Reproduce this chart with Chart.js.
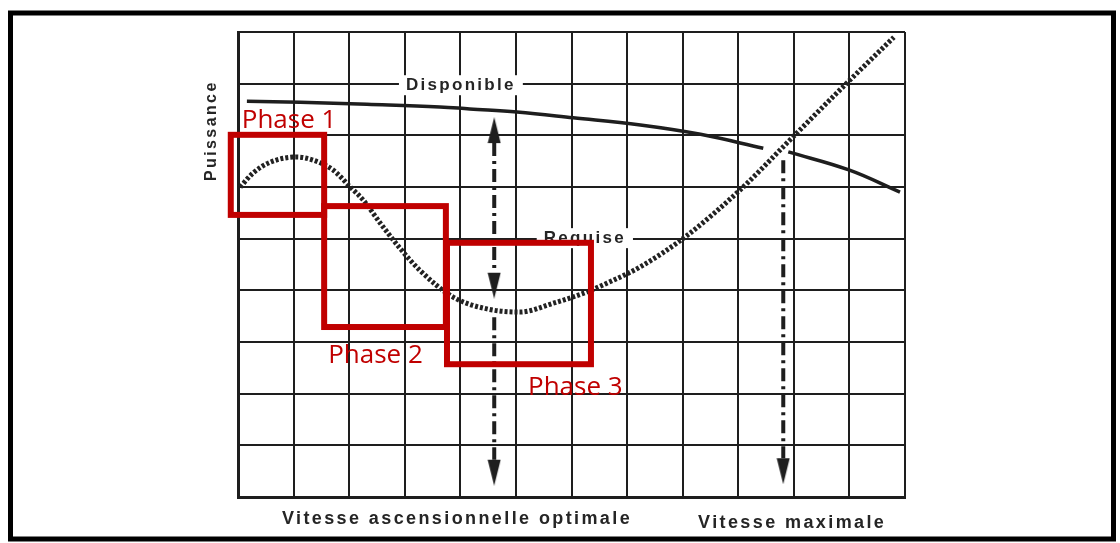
<!DOCTYPE html>
<html>
<head>
<meta charset="utf-8">
<script src="https://cdn.jsdelivr.net/npm/chart.js@4.4.1/dist/chart.umd.min.js"></script>
<style>
  html, body { margin: 0; padding: 0; background: #fff; }
  #wrap { position: relative; width: 1120px; height: 543px; }
</style>
</head>
<body>
<div id="wrap"><canvas id="powerChart"></canvas></div>
<script>
// grid units: 12 columns (speed) x 9 rows (power)
const dispoX = [0.16, 1.12, 2.32, 3.63, 4.17, 5.02, 6.03, 7.24, 8.32, 9.45, 9.68, 9.90, 10.99, 11.91];
const dispoY = [7.66, 7.64, 7.60, 7.55, 7.51, 7.45, 7.34, 7.20, 7.02, 6.75, null, 6.68, 6.33, 5.90];

const requiseX = [0.04, 0.27, 0.58, 1.06, 1.35, 1.71, 2.02, 2.25, 2.56, 2.91, 3.27, 3.87, 4.48, 5.07, 5.67, 6.28, 6.64, 7.23, 8.04, 9.03, 9.93, 10.83, 11.80];
const requiseY = [6.00, 6.27, 6.48, 6.58, 6.52, 6.33, 6.00, 5.75, 5.30, 4.82, 4.39, 3.87, 3.64, 3.58, 3.75, 3.97, 4.14, 4.45, 5.03, 5.94, 6.91, 7.88, 8.90];

// dash-dot arrows: x, top end, bottom end, heads
const arrowX = [4.61, 4.61, 9.81];
const arrowTop = [6.85, 3.48, 6.52];
const arrowBottom = [4.34, 0.72, 0.75];
const arrowHeadUp = [true, false, false];
const arrowHeadDown = [true, true, true];

// highlighted phases (x from-to, y from-to)
const phaseLabels = ['Phase 1', 'Phase 2', 'Phase 3'];
const phaseX0 = [-0.13, 1.55, 3.76];
const phaseX1 = [1.55, 3.74, 6.35];
const phaseY0 = [5.46, 3.29, 2.57];
const phaseY1 = [7.01, 5.63, 4.92];

const curveLabels = ['Disponible', 'Requise'];
const axisLabels = ['Puissance', 'Vitesse ascensionnelle optimale', 'Vitesse maximale'];

const INK = '#1e1e1e';
const TEXT = '#252525';
const RED = '#c00000';

function pts(xs, ys) {
    return xs.map((x, i) => ({ x: x, y: ys[i] }));
}

// arrowhead sprite, head in the upper half so its base sits on the point
function makeArrowHead() {
    const c = document.createElement('canvas');
    c.width = 14;
    c.height = 52;
    const g = c.getContext('2d');
    g.fillStyle = INK;
    g.beginPath();
    g.moveTo(7, 0);
    g.lineTo(0.5, 26);
    g.lineTo(13.5, 26);
    g.closePath();
    g.fill();
    return c;
}
const arrowHead = makeArrowHead();

const arrowSets = arrowX.map((x, i) => ({
    data: [{ x: x, y: arrowTop[i] }, { x: x, y: arrowBottom[i] }],
    borderColor: INK,
    borderWidth: 4,
    borderDash: [13, 5, 3, 5],
    borderCapStyle: 'butt',
    pointStyle: arrowHead,
    pointRadius: [arrowHeadUp[i] ? 6 : 0, arrowHeadDown[i] ? 6 : 0],
    rotation: [0, 180],
    tension: 0
}));

function textAt(ctx, text, x, y, font, spacing, color, bg) {
    ctx.save();
    ctx.font = font;
    ctx.letterSpacing = spacing;
    ctx.textAlign = 'center';
    ctx.textBaseline = 'middle';
    if (bg) {
        const w = ctx.measureText(text).width;
        ctx.fillStyle = '#fff';
        ctx.fillRect(x - w / 2 - 7, y - 10, w + 14, 20);
    }
    ctx.fillStyle = color;
    ctx.fillText(text, x, y);
    ctx.restore();
}

const overlay = {
    id: 'overlay',
    beforeDatasetsDraw(chart) {
        const { ctx, scales: { x, y } } = chart;
        const lbl = '700 17px "Liberation Sans", Arial, sans-serif';
        textAt(ctx, curveLabels[0], x.getPixelForValue(4.01), y.getPixelForValue(7.97), lbl, '2.3px', TEXT, true);
        textAt(ctx, curveLabels[1], x.getPixelForValue(6.24), y.getPixelForValue(5.01), lbl, '2.3px', TEXT, true);
    },
    afterDraw(chart) {
        const { ctx, chartArea, scales: { x, y } } = chart;
        const lbl = '700 18px "Liberation Sans", Arial, sans-serif';

        // outer frame
        ctx.save();
        ctx.strokeStyle = '#000';
        ctx.lineWidth = 5;
        ctx.strokeRect(10.5, 13, 1103, 526);
        ctx.restore();

        // axis captions
        textAt(ctx, axisLabels[1], x.getPixelForValue(3.94), chartArea.bottom + 22, lbl, '2.4px', TEXT);
        textAt(ctx, axisLabels[2], x.getPixelForValue(9.97), chartArea.bottom + 26, lbl, '2.4px', TEXT);
        ctx.save();
        ctx.translate(chartArea.left - 26, y.getPixelForValue(7.09));
        ctx.rotate(-Math.PI / 2);
        textAt(ctx, axisLabels[0], 0, 0, '700 16px "Liberation Sans", Arial, sans-serif', '2.4px', TEXT);
        ctx.restore();

        // phase boxes
        ctx.save();
        ctx.strokeStyle = RED;
        ctx.lineWidth = 6;
        ctx.fillStyle = RED;
        ctx.font = '500 26px "Open Sans", sans-serif';
        ctx.textBaseline = 'alphabetic';
        phaseLabels.forEach((name, i) => {
            const l = x.getPixelForValue(phaseX0[i]);
            const r = x.getPixelForValue(phaseX1[i]);
            const t = y.getPixelForValue(phaseY1[i]);
            const b = y.getPixelForValue(phaseY0[i]);
            ctx.strokeRect(l, t, r - l, b - t);
            if (i === 0) {
                ctx.fillText(name, l + 11, t - 7);
            } else {
                ctx.fillText(name, l + (i === 1 ? 4 : 81), b + (i === 1 ? 36 : 31));
            }
        });
        ctx.restore();
    }
};

new Chart(document.getElementById('powerChart'), {
    type: 'line',
    data: {
        datasets: [
            {
                label: curveLabels[0],
                data: pts(dispoX, dispoY),
                borderColor: INK,
                borderWidth: 3.5,
                pointRadius: 0,
                spanGaps: false,
                tension: 0.4
            },
            {
                label: curveLabels[1],
                data: pts(requiseX, requiseY),
                borderColor: '#222',
                borderWidth: 5,
                borderDash: [3, 2],
                borderCapStyle: 'butt',
                pointRadius: 0,
                cubicInterpolationMode: 'monotone'
            },
            ...arrowSets
        ]
    },
    options: {
        responsive: true,
        maintainAspectRatio: false,
        animation: false,
        events: [],
        layout: { padding: { left: 238, right: 215, top: 32, bottom: 46 } },
        plugins: {
            legend: { display: false },
            tooltip: { enabled: false }
        },
        scales: {
            x: {
                type: 'linear',
                min: 0,
                max: 12,
                ticks: { stepSize: 1, display: false },
                grid: { color: INK, lineWidth: 2, drawTicks: false },
                border: { color: INK, width: 3 }
            },
            y: {
                type: 'linear',
                min: 0,
                max: 9,
                ticks: { stepSize: 1, display: false },
                grid: { color: INK, lineWidth: 2, drawTicks: false },
                border: { color: INK, width: 3 }
            }
        }
    },
    plugins: [overlay]
});
</script>
</body>
</html>
